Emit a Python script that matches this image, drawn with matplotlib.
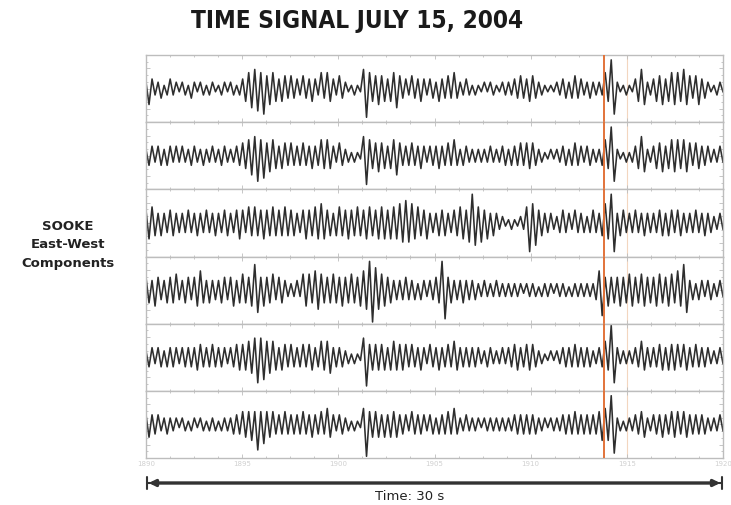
import numpy as np
import matplotlib
import matplotlib.pyplot as plt

# seismogram traces, alternating peak/trough amplitudes (10 = half a panel)
trace1 = [2,-5,3,-2,2,-3,1,-2,3,-2,2,-1, 2,-2,1,-3,2,-1,2,-2,1,-2,2,-1,
          1,-2,2,-1,2,-2,1,-2,3,-4,5,-6, 6,-7,5,-8,4,-5,5,-4,3,-4,4,-3,
          4,-3,3,-2,4,-3,3,-4,3,-2,5,-3, 5,-4,3,-2,4,-3,2,-1,1,-2,1,-1,
          6,-9,5,-4,4,-5,4,-4,3,-4,5,-6, 4,-3,3,-2,4,-3,3,-4,3,-2,3,-3,
          2,-4,3,-3,4,-3,5,-3,2,-2,3,-2, 1,-2,1,-1,2,-1,2,-2,1,-1,2,-2,
          2,-2,3,-3,4,-3,3,-4,4,-3,2,-2, 1,-1,1,-1,2,-2,3,-3,2,-3,4,-3,
          3,-2,2,-3,2,-2,2,-2,5,-4,9,-8, 2,-1,1,-2,1,-1,3,-4,6,-5,2,-2,
          3,-4,4,-5,3,-4,5,-5,5,-4,6,-5, 4,-3,4,-5,3,-3,2,-1,1,-2,2,-1]
trace2 = [2,-3,3,-2,3,-3,2,-3,3,-2,3,-2, 3,-2,2,-3,3,-2,2,-3,2,-2,3,-2,
          2,-3,3,-2,2,-2,3,-3,4,-4,5,-6, 6,-8,5,-7,4,-5,5,-4,3,-4,4,-3,
          4,-3,3,-3,4,-3,3,-4,3,-3,5,-4, 5,-4,3,-2,4,-3,2,-2,1,-2,1,-1,
          6,-9,5,-4,4,-5,4,-4,3,-4,5,-6, 4,-3,3,-3,4,-3,3,-4,3,-2,3,-3,
          3,-4,3,-3,4,-3,5,-3,2,-3,3,-2, 2,-2,2,-2,2,-2,3,-2,2,-2,3,-3,
          2,-3,3,-3,4,-3,4,-4,4,-3,2,-2, 1,-1,2,-1,2,-2,3,-3,2,-3,4,-3,
          3,-2,3,-3,2,-2,2,-3,5,-4,9,-8, 2,-1,1,-2,1,-2,3,-4,6,-5,2,-2,
          3,-4,4,-5,3,-4,5,-5,5,-4,5,-5, 4,-3,4,-4,3,-3,3,-2,2,-2,3,-2]
trace3 = [4,-5,5,-4,3,-4,3,-3,4,-4,3,-3, 3,-3,4,-3,3,-4,3,-3,4,-3,3,-4,
          3,-3,4,-4,3,-3,4,-5,4,-3,5,-4, 5,-4,4,-5,4,-4,5,-4,4,-4,5,-4,
          4,-4,3,-3,4,-5,4,-4,5,-5,6,-5, 4,-4,3,-4,5,-4,4,-5,4,-4,5,-4,
          4,-5,5,-4,4,-5,5,-5,4,-5,5,-5, 6,-6,7,-6,6,-5,5,-4,4,-5,3,-3,
          3,-4,4,-4,3,-3,4,-4,5,-5,4,-6, 9,-7,5,-6,4,-5,3,-4,3,-2,2,-1,
          1,-2,1,-1,2,-2,5,-9,6,-7,4,-4, 3,-3,3,-2,2,-3,4,-3,3,-2,4,-3,
          3,-3,2,-3,4,-3,3,-4,6,-5,9,-9, 3,-4,4,-3,3,-3,4,-3,3,-4,3,-3,
          3,-3,4,-4,3,-4,4,-3,4,-4,3,-3, 3,-3,4,-3,3,-4,3,-3,2,-2,3,-2]
trace4 = [4,-4,3,-5,4,-3,3,-4,4,-4,5,-3, 3,-4,4,-3,4,-5,6,-4,3,-4,3,-3,
          3,-4,4,-3,4,-5,3,-4,5,-4,4,-5, 8,-7,4,-5,4,-4,5,-3,4,-4,3,-2,
          2,-2,3,-2,5,-5,5,-4,6,-6,5,-4, 4,-4,5,-4,4,-5,4,-4,5,-4,4,-5,
          6,-6,9,-10,7,-6,5,-5,4,-4,3,-3, 3,-3,4,-3,3,-3,2,-3,3,-2,3,-3,
          4,-4,9,-9,4,-4,3,-3,3,-4,3,-3, 3,-3,2,-2,3,-2,2,-2,3,-2,2,-2,
          2,-2,2,-2,2,-1,2,-2,2,-2,1,-2, 2,-2,2,-1,2,-2,2,-2,1,-2,2,-2,
          2,-2,2,-2,2,-3,6,-8,4,-5,4,-4, 4,-5,4,-4,5,-5,4,-4,5,-5,4,-4,
          4,-5,5,-4,4,-5,5,-4,6,-5,8,-7, 3,-3,2,-3,3,-2,3,-3,2,-2,3,-2]
trace5 = [2,-3,3,-2,3,-3,2,-3,3,-3,3,-2, 3,-3,3,-3,3,-4,4,-3,3,-3,4,-3,
          3,-3,3,-2,3,-3,4,-4,4,-4,5,-5, 6,-8,6,-7,5,-5,5,-4,3,-4,4,-3,
          4,-3,3,-3,4,-3,4,-4,3,-3,5,-4, 5,-5,3,-3,3,-3,2,-2,1,-2,1,-1,
          6,-9,4,-4,4,-4,4,-4,3,-4,5,-4, 4,-4,4,-3,4,-3,3,-4,3,-2,4,-3,
          3,-4,3,-3,4,-3,5,-4,3,-3,3,-3, 3,-3,3,-2,2,-3,3,-2,2,-2,3,-2,
          3,-3,4,-4,3,-3,4,-4,4,-3,2,-2, 1,-1,2,-1,2,-2,3,-3,3,-3,4,-3,
          3,-3,3,-3,2,-2,3,-3,5,-4,10,-8, 3,-2,2,-2,2,-2,3,-3,5,-4,3,-3,
          3,-3,4,-4,3,-4,4,-4,4,-3,4,-4, 3,-3,4,-3,3,-3,3,-2,2,-2,3,-2]
trace6 = [3,-4,3,-3,3,-2,2,-3,2,-2,2,-1, 2,-2,1,-2,2,-1,2,-2,1,-2,2,-2,
          1,-2,2,-2,2,-3,3,-3,4,-4,4,-5, 4,-8,4,-6,4,-4,4,-3,3,-3,4,-3,
          3,-3,3,-3,4,-3,3,-4,3,-3,4,-3, 5,-4,3,-2,3,-3,2,-2,1,-2,1,-1,
          5,-10,4,-4,4,-4,3,-4,3,-4,4,-4, 3,-3,3,-2,4,-3,3,-3,3,-2,3,-3,
          2,-3,3,-3,4,-3,5,-3,2,-2,3,-2, 2,-2,2,-1,2,-2,2,-2,2,-2,2,-2,
          2,-2,3,-3,3,-3,3,-3,3,-3,2,-2, 2,-1,2,-2,2,-2,3,-3,3,-3,4,-3,
          3,-3,3,-3,3,-3,4,-5,5,-5,9,-9, 2,-2,1,-2,2,-2,3,-3,4,-4,2,-2,
          3,-3,3,-4,3,-3,4,-4,4,-3,4,-4, 3,-3,3,-3,3,-3,2,-2,2,-2,3,-2]
traces = [trace1, trace2, trace3, trace4, trace5, trace6]

t_start, t_end = 1890, 1920
x_ticks = [1890, 1895, 1900, 1905, 1910, 1915, 1920]
event_time = 1913.8
event_time2 = 1915.0

fig = plt.figure(figsize=(7.31, 5.05), dpi=100)
left, right = 146/731, 723/731
top, bot = 55/505, 458/505
ph = (bot - top)/6

grid_col = '#bdbdbd'
for i, tr in enumerate(traces):
    ax = fig.add_axes([left, 1 - top - (i+1)*ph, right - left, ph])
    t = np.linspace(t_start, t_end, len(tr))
    ax.plot(t, np.array(tr)/10*0.95, color='#2e2e2e', lw=1.15)
    ax.axvline(event_time, color='#e2733a', lw=1.4, zorder=3)
    ax.axvline(event_time2, color='#f3d6bf', lw=0.8, zorder=1)
    ax.set_xlim(t_start, t_end)
    ax.set_ylim(-1, 1)
    ax.set_xticks(x_ticks)
    ax.set_xticks(np.arange(t_start, t_end + 1, 1.25), minor=True)
    ax.set_yticks([-0.6, 0, 0.6])
    ax.set_yticks(np.arange(-0.8, 0.81, 0.2), minor=True)
    ax.tick_params(which='both', direction='in', top=True, right=True,
                   color=grid_col, length=3, width=0.6)
    ax.tick_params(which='minor', length=1.5)
    ax.set_yticklabels([])
    if i < 5:
        ax.set_xticklabels([])
    else:
        ax.set_xticklabels([str(v) for v in x_ticks], fontsize=5, color='#d0d0d0')
        ax.tick_params(axis='x', pad=2)
    for s in ax.spines.values():
        s.set_color(grid_col)
        s.set_linewidth(1.0)

fig.text(0.488, 0.958, 'TIME SIGNAL JULY 15, 2004', ha='center', va='center',
         fontsize=17.5, fontweight='bold', fontstretch='condensed', color='#1a1a1a')
fig.text(68/731, 1 - 245/505, 'SOOKE\nEast-West\nComponents', ha='center', va='center',
         fontsize=9.5, fontweight='semibold', color='#222222', linespacing=1.5)

# time span arrow
ya = 1 - 483/505
fig.add_artist(matplotlib.patches.FancyArrowPatch((left, ya), (right, ya), transform=fig.transFigure,
               arrowstyle='<|-|>', mutation_scale=9, color='#333333', lw=2.4))
fig.add_artist(matplotlib.patches.FancyArrowPatch((left - 0.002, ya), (right + 0.002, ya), transform=fig.transFigure,
               arrowstyle='|-|', mutation_scale=4, color='#333333', lw=1.5))
fig.text(410/731, 1 - 497/505, 'Time: 30 s', ha='center', va='center', fontsize=9.5, color='#222222')

fig.savefig('out.png', dpi=100)
